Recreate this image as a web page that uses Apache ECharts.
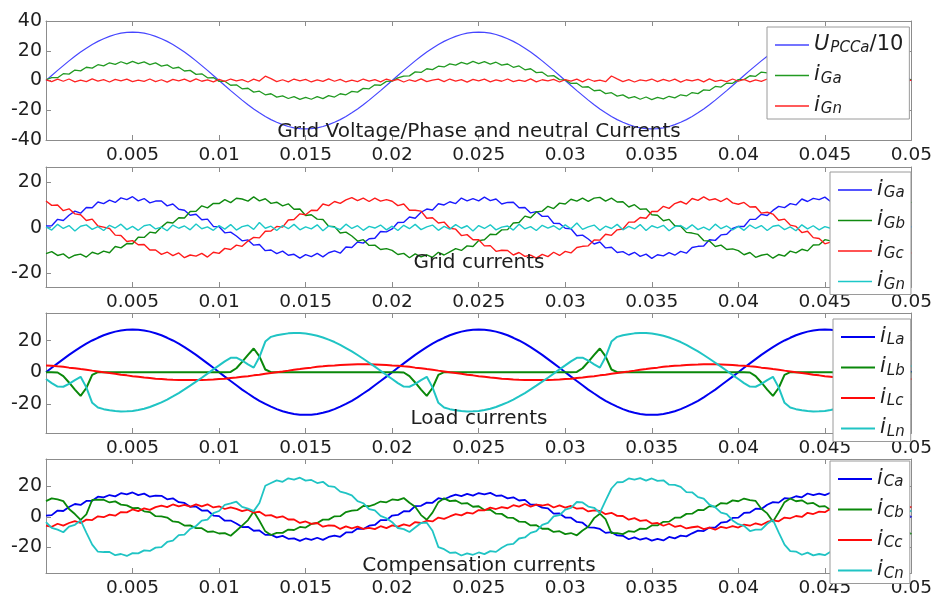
<!DOCTYPE html>
<html>
<head>
<meta charset="utf-8">
<script src="https://cdn.jsdelivr.net/npm/echarts@6/dist/echarts.min.js"></script>
<style>
  html, body { margin: 0; padding: 0; background: #fff; }
  #chart { width: 935px; height: 598px; }
</style>
</head>
<body>
<div id="chart"></div>
<script>
// sample times (s), one sample every 1/3 ms
const timeS = [
  0,0.00033,0.00067,0.001,0.00133,0.00167,0.002,0.00233,0.00267,0.003,0.00333,0.00367,0.004,0.00433,0.00467,0.005,0.00533,0.00567,0.006,0.00633,0.00667,0.007,0.00733,0.00767,0.008,0.00833,0.00867,0.009,0.00933,0.00967,
  0.01,0.01033,0.01067,0.011,0.01133,0.01167,0.012,0.01233,0.01267,0.013,0.01333,0.01367,0.014,0.01433,0.01467,0.015,0.01533,0.01567,0.016,0.01633,0.01667,0.017,0.01733,0.01767,0.018,0.01833,0.01867,0.019,0.01933,0.01967,
  0.02,0.02033,0.02067,0.021,0.02133,0.02167,0.022,0.02233,0.02267,0.023,0.02333,0.02367,0.024,0.02433,0.02467,0.025,0.02533,0.02567,0.026,0.02633,0.02667,0.027,0.02733,0.02767,0.028,0.02833,0.02867,0.029,0.02933,0.02967,
  0.03,0.03033,0.03067,0.031,0.03133,0.03167,0.032,0.03233,0.03267,0.033,0.03333,0.03367,0.034,0.03433,0.03467,0.035,0.03533,0.03567,0.036,0.03633,0.03667,0.037,0.03733,0.03767,0.038,0.03833,0.03867,0.039,0.03933,0.03967,
  0.04,0.04033,0.04067,0.041,0.04133,0.04167,0.042,0.04233,0.04267,0.043,0.04333,0.04367,0.044,0.04433,0.04467,0.045,0.04533,0.04567,0.046,0.04633,0.04667,0.047,0.04733,0.04767,0.048,0.04833,0.04867,0.049,0.04933,0.04967,
  0.05
];

// ---- panel 1: grid voltage / phase and neutral currents ----
const uPcc = [
  0,3.4,6.8,10,13.2,16.3,19.1,21.7,24.2,26.3,28.1,29.7,30.9,31.8,32.3,32.5,32.3,31.8,30.9,29.7,28.1,26.3,24.2,21.7,19.1,16.3,13.2,10,6.8,3.4,
  0,-3.4,-6.8,-10,-13.2,-16.3,-19.1,-21.7,-24.2,-26.3,-28.1,-29.7,-30.9,-31.8,-32.3,-32.5,-32.3,-31.8,-30.9,-29.7,-28.1,-26.3,-24.2,-21.7,-19.1,-16.3,-13.2,-10,-6.8,-3.4,
  0,3.4,6.8,10,13.2,16.3,19.1,21.7,24.2,26.3,28.1,29.7,30.9,31.8,32.3,32.5,32.3,31.8,30.9,29.7,28.1,26.3,24.2,21.7,19.1,16.3,13.2,10,6.8,3.4,
  0,-3.4,-6.8,-10,-13.2,-16.3,-19.1,-21.7,-24.2,-26.3,-28.1,-29.7,-30.9,-31.8,-32.3,-32.5,-32.3,-31.8,-30.9,-29.7,-28.1,-26.3,-24.2,-21.7,-19.1,-16.3,-13.2,-10,-6.8,-3.4,
  0,3.4,6.8,10,13.2,16.3,19.1,21.7,24.2,26.3,28.1,29.7,30.9,31.8,32.3,32.5,32.3,31.8,30.9,29.7,28.1,26.3,24.2,21.7,19.1,16.3,13.2,10,6.8,3.4,
  0
];
const iGa1 = [
  0.5,2.0,1.9,4.6,4.3,7.0,6.5,8.9,8.3,10.6,9.8,11.9,10.8,12.6,11.2,12.9,11.3,12.5,10.7,11.8,9.7,10.5,8.2,8.9,6.4,6.8,4.1,4.5,1.8,2.0,
  -0.6,-0.5,-3.2,-2.9,-5.6,-5.2,-7.8,-7.2,-9.6,-8.9,-11.2,-10.3,-12.1,-10.9,-12.7,-11.3,-12.6,-10.9,-12.2,-10.2,-11.1,-8.9,-9.6,-7.3,-7.8,-5.3,-5.6,-2.9,-3.2,-0.6,
  -0.4,1.8,3.0,3.1,5.8,5.4,7.9,7.3,9.6,9.1,11.2,10.3,12.2,11.0,12.8,11.4,12.7,11.0,12.3,10.3,11.1,8.9,9.8,7.2,7.9,5.3,5.6,2.9,3.3,0.6,
  0.4,-2.0,-1.8,-4.5,-4.2,-6.9,-6.4,-8.8,-8.2,-10.5,-9.7,-11.8,-10.9,-12.6,-11.1,-12.8,-11.4,-12.4,-10.6,-11.7,-9.6,-10.4,-8.1,-8.8,-6.3,-6.7,-4.0,-4.4,-1.7,-1.9,
  0.6,0.6,3.2,2.8,5.7,5.1,7.9,7.1,9.7,8.8,11.3,10.2,12.3,10.9,12.8,11.3,12.7,11.0,12.1,10.2,11.2,8.8,9.7,7.3,7.8,5.2,5.7,2.9,3.2,0.5,
  0.6
];
const iGn1 = [
  0.4,-0.8,0.9,-0.5,1.0,-0.9,0.3,-0.7,1.1,-0.4,0.6,-1.0,0.8,-0.3,0.9,-0.8,0.2,-0.6,1.0,-0.8,0.5,-1.1,0.7,-0.2,0.9,-0.7,1.1,-0.5,0.4,-0.9,
  0.8,-0.6,1.0,-0.3,0.6,-1.0,0.9,-0.4,2.9,1.3,-0.8,0.5,-0.9,1.0,-0.2,0.7,-1.0,0.4,-0.6,1.1,-0.5,0.8,-1.0,0.3,-0.7,1.0,-0.4,0.6,-0.9,1.0,
  -0.3,0.7,-1.0,0.5,-0.6,1.1,-0.8,0.2,0.9,-0.7,1.0,-0.4,0.6,-1.1,0.8,-0.3,0.9,-0.9,0.4,-0.5,1.0,-0.8,0.3,-0.6,1.1,-0.9,0.5,-0.2,0.8,-1.0,
  0.6,-0.4,0.9,-0.9,1.0,-0.5,0.3,-0.8,3.0,1.1,-0.7,0.6,-1.0,0.4,-0.3,1.0,-0.8,0.7,-0.5,0.9,-1.1,0.5,-0.2,0.8,-0.9,1.1,-0.6,0.3,-0.7,1.0,
  -0.5,0.8,-0.9,0.4,-0.6,1.0,-1.0,0.3,0.7,-0.8,1.1,-0.3,0.5,-0.9,0.9,-0.4,0.6,-1.0,0.8,-0.2,1.0,-0.7,0.4,-0.8,1.1,-0.6,0.2,-0.9,0.7,-0.5,
  0.3
];

// ---- panel 2: grid currents ----
const iGa2 = [
  0.7,0.8,3.6,3.1,5.4,7.2,6.3,8.8,8.7,11.2,10.5,12.0,11.0,13.0,12.2,13.5,11.7,12.7,10.8,11.6,11.6,9.5,10.3,8.0,7.6,5.4,5.8,3.4,3.7,0.5,
  0.4,-2.3,-2.0,-3.7,-5.8,-5.4,-7.7,-7.4,-10.1,-9.8,-11.4,-10.3,-12.1,-11.7,-13.4,-11.8,-12.7,-11.3,-12.8,-11.0,-10.2,-11.2,-8.5,-8.7,-6.3,-6.8,-4.9,-4.7,-1.7,-1.9,
  -0.6,2.2,2.3,4.6,4.1,6.7,8.1,7.7,10.4,9.9,11.3,10.5,12.9,11.7,12.7,11.7,13.3,11.8,12.5,10.3,11.0,11.1,8.7,8.8,6.4,7.0,4.9,5.0,1.9,1.8,
  -0.3,-0.5,-3.6,-3.3,-5.0,-7.2,-6.3,-8.9,-8.6,-10.9,-10.5,-12.0,-10.8,-12.6,-11.6,-13.5,-11.9,-12.4,-11.0,-12.1,-10.4,-11.2,-8.7,-8.2,-8.1,-5.3,-5.6,-3.2,-2.9,-0.4,
  0.5,0.5,3.6,3.6,5.8,5.3,7.5,9.3,8.7,10.5,9.9,12.5,11.4,12.8,12.2,13.3,11.4,12.5,12.6,10.8,11.8,9.7,9.8,7.5,8.1,6.0,5.7,2.9,3.5,0.8,
  0.3
];
const iGb2 = [
  -11.4,-10.5,-12.2,-11.5,-13.4,-12.1,-11.6,-12.9,-10.8,-11.6,-10.3,-11.0,-8.3,-8.9,-7.0,-7.1,-4.2,-4.3,-2.0,-2.4,0.2,2.3,2.0,4.3,4.2,7.0,7.1,9.5,8.6,10.6,
  10.5,12.2,10.9,12.8,12.5,11.6,13.4,11.7,12.6,10.6,11.1,9.5,10.4,8.0,8.1,5.3,5.6,3.7,3.5,0.6,0.4,-2.4,-2.0,-3.7,-5.9,-5.3,-7.8,-7.7,-9.6,-9.2,
  -10.0,-11.8,-11.3,-13.2,-11.5,-12.8,-11.9,-13.0,-10.8,-12.0,-10.6,-9.2,-10.0,-8.0,-8.3,-5.7,-5.3,-2.9,-3.1,-1.0,-0.9,2.0,2.2,5.0,4.3,6.8,7.2,9.3,8.3,10.7,
  10.3,12.4,11.6,12.9,11.5,12.9,13.2,11.6,12.9,11.2,11.3,9.0,10.0,8.0,8.2,5.6,5.4,3.0,3.6,0.8,0.6,-2.1,-2.4,-3.0,-5.7,-5.9,-8.3,-7.7,-9.6,-9.3,
  -10.1,-11.9,-10.9,-13.0,-12.1,-11.6,-13.4,-11.8,-12.5,-10.3,-11.1,-9.5,-10.2,-7.6,-7.5,-5.3,-5.8,-3.4,-3.7,-1.1,0.8,0.7,3.6,3.5,5.4,5.4,8.0,7.9,10.4,9.3,
  11.2
];
const iGc2 = [
  11.6,9.7,9.9,7.4,8.2,6.0,5.6,3.1,3.7,0.7,0.2,-0.4,-3.3,-3.5,-6.1,-5.7,-7.5,-7.4,-9.8,-9.8,-11.7,-10.7,-12.3,-11.1,-13.2,-12.0,-12.5,-11.3,-12.9,-10.8,
  -11.3,-9.1,-9.6,-7.7,-8.2,-5.9,-4.3,-4.5,-1.6,-1.5,0.5,0.2,3.3,3.5,6.0,5.6,7.6,7.5,10.3,9.6,11.4,10.6,12.1,13.1,11.8,12.9,11.4,12.9,11.6,12.2,
  11.5,9.6,10.3,7.6,7.6,7.2,4.1,4.3,2.0,2.4,-0.3,-0.7,-3.5,-3.1,-5.3,-5.3,-8.0,-7.9,-10.4,-9.9,-10.0,-12.0,-10.9,-12.6,-12.1,-13.4,-11.7,-12.7,-10.8,-12.2,
  -10.4,-11.1,-8.7,-8.2,-8.0,-5.4,-5.5,-2.9,-3.4,-1.0,-0.6,2.4,2.4,4.4,4.1,7.0,7.0,9.3,8.4,10.5,11.4,10.3,12.7,11.9,13.4,12.0,12.6,11.4,12.8,10.8,
  10.2,11.0,9.0,9.1,6.3,6.7,5.9,3.2,3.7,1.1,0.5,-2.2,-1.6,-4.4,-4.8,-7.1,-6.4,-8.8,-8.7,-11.2,-10.6,-10.4,-12.5,-11.8,-13.3,-11.8,-12.6,-11.1,-12.6,-10.9,
  -11.1
];
const iGn2 = [
  0.3,-1.1,1.4,-0.4,0.9,-1.5,0.6,1.2,-0.8,0.4,-1.3,1.0,-0.2,1.5,-0.9,0.5,-1.2,0.8,1.3,-0.6,0.2,-1.4,1.1,-0.3,0.7,-1.0,1.6,-0.5,0.3,-1.2,
  0.9,-0.7,1.3,-1.1,0.4,1.0,-0.8,2.2,-0.3,0.6,-1.3,0.9,-0.5,1.4,-1.0,0.3,-0.6,1.2,-1.4,0.7,0.1,-0.9,1.5,-0.4,0.8,-1.2,0.5,-0.2,1.1,-1.0,
  0.6,-1.3,1.0,-0.5,1.4,-0.9,0.3,1.1,-1.2,0.5,-0.7,1.3,-0.3,0.8,-1.5,0.9,-0.4,1.2,-1.0,0.2,0.7,-1.1,1.5,-0.6,0.4,-1.3,1.0,-0.2,0.8,-0.9,
  1.2,-0.5,2.0,-0.8,0.3,1.1,-1.2,0.6,-0.4,1.4,-1.0,0.5,-0.6,1.3,-1.3,0.8,-0.1,1.0,-1.4,0.4,0.9,-0.7,1.2,-0.9,0.2,-1.1,1.5,-0.5,0.7,-1.0,
  0.5,-1.2,1.1,-0.4,0.9,-1.3,0.6,1.0,-0.9,0.3,-1.4,1.2,-0.6,0.8,-1.0,0.4,-0.3,1.3,-1.1,0.7,0.2,-1.2,1.0,-0.5,0.6,-0.8,1.4,-0.7,0.3,-1.0,
  0.4
];

// ---- panel 3: load currents ----
const iLa = [
  0,2.8,5.6,8.3,11,13.5,15.9,18.1,20.1,21.8,23.4,24.7,25.7,26.4,26.9,27,26.9,26.4,25.7,24.7,23.4,21.8,20.1,18.1,15.9,13.5,11,8.3,5.6,2.8,
  0,-2.8,-5.6,-8.3,-11,-13.5,-15.9,-18.1,-20.1,-21.8,-23.4,-24.7,-25.7,-26.4,-26.9,-27,-26.9,-26.4,-25.7,-24.7,-23.4,-21.8,-20.1,-18.1,-15.9,-13.5,-11,-8.3,-5.6,-2.8,
  0,2.8,5.6,8.3,11,13.5,15.9,18.1,20.1,21.8,23.4,24.7,25.7,26.4,26.9,27,26.9,26.4,25.7,24.7,23.4,21.8,20.1,18.1,15.9,13.5,11,8.3,5.6,2.8,
  0,-2.8,-5.6,-8.3,-11,-13.5,-15.9,-18.1,-20.1,-21.8,-23.4,-24.7,-25.7,-26.4,-26.9,-27,-26.9,-26.4,-25.7,-24.7,-23.4,-21.8,-20.1,-18.1,-15.9,-13.5,-11,-8.3,-5.6,-2.8,
  0,2.8,5.6,8.3,11,13.5,15.9,18.1,20.1,21.8,23.4,24.7,25.7,26.4,26.9,27,26.9,26.4,25.7,24.7,23.4,21.8,20.1,18.1,15.9,13.5,11,8.3,5.6,2.8,
  0
];
const iLb = [
  0,0,-0.2,-2.5,-6.5,-11,-15,-10,-1.7,0,0,0,0,0,0,0,0,0,0,0,0,0,0,0,0,0,0,0,0,0,
  0,0,0.2,2.5,6.5,11,15,10,1.7,0,0,0,0,0,0,0,0,0,0,0,0,0,0,0,0,0,0,0,0,0,
  0,0,-0.2,-2.5,-6.5,-11,-15,-10,-1.7,0,0,0,0,0,0,0,0,0,0,0,0,0,0,0,0,0,0,0,0,0,
  0,0,0.2,2.5,6.5,11,15,10,1.7,0,0,0,0,0,0,0,0,0,0,0,0,0,0,0,0,0,0,0,0,0,
  0,0,-0.2,-2.5,-6.5,-11,-15,-10,-1.7,0,0,0,0,0,0,0,0,0,0,0,0,0,0,0,0,0,0,0,0,0,
  0
];
const iLc = [
  4.3,4.1,3.7,3.4,2.9,2.5,2,1.6,1,0.5,0,-0.5,-1,-1.6,-2,-2.5,-2.9,-3.4,-3.7,-4.1,-4.3,-4.6,-4.8,-4.9,-5,-5,-5,-4.9,-4.8,-4.6,
  -4.3,-4.1,-3.7,-3.4,-2.9,-2.5,-2,-1.6,-1,-0.5,0,0.5,1,1.6,2,2.5,2.9,3.4,3.7,4.1,4.3,4.6,4.8,4.9,5,5,5,4.9,4.8,4.6,
  4.3,4.1,3.7,3.4,2.9,2.5,2,1.6,1,0.5,0,-0.5,-1,-1.6,-2,-2.5,-2.9,-3.4,-3.7,-4.1,-4.3,-4.6,-4.8,-4.9,-5,-5,-5,-4.9,-4.8,-4.6,
  -4.3,-4.1,-3.7,-3.4,-2.9,-2.5,-2,-1.6,-1,-0.5,0,0.5,1,1.6,2,2.5,2.9,3.4,3.7,4.1,4.3,4.6,4.8,4.9,5,5,5,4.9,4.8,4.6,
  4.3,4.1,3.7,3.4,2.9,2.5,2,1.6,1,0.5,0,-0.5,-1,-1.6,-2,-2.5,-2.9,-3.4,-3.7,-4.1,-4.3,-4.6,-4.8,-4.9,-5,-5,-5,-4.9,-4.8,-4.6,
  -4.3
];
const iLn = [
  -4.3,-6.9,-9.1,-9.2,-7.4,-5,-2.9,-9.6,-19.4,-22.4,-23.4,-24.1,-24.6,-24.9,-24.8,-24.5,-23.9,-23.1,-22,-20.6,-19.1,-17.3,-15.3,-13.2,-10.9,-8.5,-6,-3.5,-0.9,1.8,
  4.3,6.9,9.1,9.2,7.4,5,2.9,9.6,19.4,22.4,23.4,24.1,24.6,24.9,24.8,24.5,23.9,23.1,22,20.6,19.1,17.3,15.3,13.2,10.9,8.5,6,3.5,0.9,-1.8,
  -4.3,-6.9,-9.1,-9.2,-7.4,-5,-2.9,-9.6,-19.4,-22.4,-23.4,-24.1,-24.6,-24.9,-24.8,-24.5,-23.9,-23.1,-22,-20.6,-19.1,-17.3,-15.3,-13.2,-10.9,-8.5,-6,-3.5,-0.9,1.8,
  4.3,6.9,9.1,9.2,7.4,5,2.9,9.6,19.4,22.4,23.4,24.1,24.6,24.9,24.8,24.5,23.9,23.1,22,20.6,19.1,17.3,15.3,13.2,10.9,8.5,6,3.5,0.9,-1.8,
  -4.3,-6.9,-9.1,-9.2,-7.4,-5,-2.9,-9.6,-19.4,-22.4,-23.4,-24.1,-24.6,-24.9,-24.8,-24.5,-23.9,-23.1,-22,-20.6,-19.1,-17.3,-15.3,-13.2,-10.9,-8.5,-6,-3.5,-0.9,1.8,
  4.3
];

// ---- panel 4: compensation currents ----
const iCa = [
  0.7,1.1,4.1,3.8,6.4,8.4,7.8,10.4,10.5,13.2,12.7,14.3,13.4,15.5,14.7,16.0,14.2,15.2,13.2,13.9,13.8,11.5,12.1,9.6,9.1,6.6,6.8,4.1,4.2,0.8,
  0.4,-2.6,-2.5,-4.4,-6.8,-6.6,-9.2,-9.0,-11.9,-11.8,-13.6,-12.6,-14.5,-14.2,-15.9,-14.3,-15.2,-13.8,-15.2,-13.3,-12.4,-13.2,-10.3,-10.3,-7.8,-8.0,-5.9,-5.4,-2.2,-2.2,
  0.8,1.2,3.7,3.6,7.0,7.2,9.3,9.2,12.2,11.5,13.2,14.6,13.6,15.1,13.9,15.6,14.7,15.7,13.8,14.0,12.1,12.8,10.7,11.1,8.0,8.0,6.0,5.5,2.1,2.2,
  -0.5,-0.6,-3.4,-3.9,-7.0,-7.1,-8.0,-10.6,-10.1,-12.3,-12.5,-14.8,-13.6,-15.1,-14.0,-15.7,-14.6,-15.6,-13.3,-14.2,-12.4,-12.9,-10.9,-9.1,-9.4,-7.1,-7.1,-3.9,-3.4,-0.8,
  -0.6,2.5,2.8,5.3,5.1,7.9,9.6,9.3,12.2,11.9,13.5,12.8,15.3,14.2,15.2,14.2,15.8,14.3,14.9,12.6,13.2,13.1,10.5,10.4,7.9,8.2,5.9,5.7,2.4,2.1,
  -0.3
];
const iCb = [
  10.3,12.1,11.5,10.3,5.1,1.8,-2.0,1.6,11.1,11.2,11.2,9.4,10.1,8.0,7.5,5.7,5.8,3.6,3.1,0.4,0.2,-0.5,-3.1,-3.6,-5.8,-5.7,-7.5,-7.5,-9.9,-9.7,
  -11.0,-10.8,-12.5,-9.2,-5.8,-2.2,3.4,-2.6,-9.6,-12.0,-10.6,-10.6,-8.4,-8.7,-6.7,-7.1,-4.7,-4.1,-1.9,-1.9,0.3,0.4,3.1,4.1,4.4,7.1,6.9,8.2,10.0,9.5,
  11.4,10.9,12.3,9.2,6.6,1.1,-2.0,2.7,9.6,12.1,10.3,10.7,8.7,9.0,6.6,6.9,4.5,4.6,2.0,1.9,-0.6,-0.8,-3.2,-3.3,-5.7,-5.6,-7.9,-7.8,-10.0,-9.5,
  -11.4,-10.7,-12.2,-9.0,-6.5,-0.9,2.0,-1.6,-10.8,-10.8,-11.4,-9.4,-9.9,-7.8,-8.0,-5.7,-5.7,-3.3,-3.2,-0.6,-0.5,1.9,2.0,4.5,4.4,7.0,6.6,9.0,8.6,10.8,
  10.2,12.0,11.0,10.4,5.3,2.2,-3.2,2.8,9.6,12.0,10.2,10.8,8.6,9.1,6.7,7.0,4.4,4.6,1.9,2.0,-0.6,-0.6,-3.3,-3.2,-5.8,-5.5,-8.0,-7.7,-10.0,-9.4,
  -11.3
];
const iCc = [
  -5.8,-6.6,-4.6,-5.8,-4.1,-2.9,-4.1,-1.9,-2.2,0.3,-0.3,1.4,0.7,3.1,2.9,4.8,3.7,5.5,4.5,6.3,7.3,6.3,8.1,6.9,7.8,6.6,8.2,6.8,8.2,6.1,
  6.9,5.1,6.2,5.2,3.7,4.7,2.7,3.3,0.8,1.1,-0.6,0.3,-1.8,-1.8,-4.1,-3.1,-4.7,-4.1,-6.5,-5.7,-5.9,-8.0,-6.3,-7.6,-6.5,-8.0,-7.3,-8.1,-6.2,-7.5,
  -5.7,-6.5,-5.0,-6.0,-3.5,-4.1,-2.6,-3.1,-0.5,-1.4,0.2,1.7,0.9,2.7,2.1,4.4,4.2,6.0,5.1,6.4,5.6,7.6,6.7,8.4,6.7,8.0,7.4,8.2,6.1,7.5,
  6.0,7.1,5.3,5.7,3.5,4.2,3.9,1.7,2.6,0.6,0.5,-1.9,-0.9,-2.7,-2.2,-4.5,-4.1,-5.9,-4.6,-6.6,-5.9,-7.7,-6.9,-6.4,-8.1,-7.1,-8.5,-6.6,-7.4,-6.1,
  -7.1,-5.2,-5.9,-4.3,-5.4,-3.4,-2.3,-3.0,-0.5,-1.0,0.5,-0.1,2.6,1.8,3.4,3.0,5.3,4.6,6.2,5.0,6.7,7.9,6.5,7.7,6.6,8.2,7.3,8.4,6.4,7.4,
  6.2
];
const iCn = [
  -3.5,-7.3,-8.5,-10.2,-6.5,-5.3,-2.4,-10.4,-18.3,-23.0,-23.2,-23.2,-25.3,-24.5,-25.8,-23.9,-24.1,-22.1,-22.5,-20.3,-20.0,-16.6,-15.7,-12.1,-11.7,-8.0,-6.1,-2.6,-1.9,2.4,
  3.8,7.9,8.8,9.9,6.5,5.4,3.7,9.0,20.4,22.2,23.9,23.0,25.3,24.5,25.7,23.8,24.2,22.2,23.0,20.1,19.7,16.5,15.5,14.1,10.3,8.9,5.0,4.2,0.6,-1.0,
  -3.6,-7.4,-8.1,-10.0,-7.1,-4.1,-3.9,-9.2,-20.0,-21.3,-23.7,-23.5,-25.5,-24.1,-25.0,-23.5,-24.6,-22.6,-23.1,-20.4,-18.3,-17.9,-14.3,-13.6,-10.6,-9.4,-5.3,-4.0,0.2,1.0,
  4.7,5.9,9.7,9.4,6.7,5.9,2.5,10.6,18.6,22.7,22.8,25.2,24.4,25.4,23.8,25.2,23.6,24.0,21.1,21.0,19.7,16.2,16.1,12.9,11.9,8.0,6.2,2.7,1.8,-2.4,
  -4.9,-6.0,-9.4,-8.5,-8.4,-4.6,-2.1,-10.3,-18.3,-22.6,-22.9,-25.0,-23.6,-25.4,-24.5,-25.3,-23.0,-23.5,-21.4,-21.7,-18.9,-16.3,-15.9,-12.8,-11.8,-7.8,-6.2,-2.4,-1.6,2.3,
  4.0
];

// panel titles and axis ticks
const panelTitles = ['Grid Voltage/Phase and neutral Currents', 'Grid currents', 'Load currents', 'Compensation currents'];
const yRanges = [[-40, 40], [-26, 26.5], [-38.5, 37.5], [-37, 38]];
const yTickValues = [[-40, -20, 0, 20, 40], [-20, 0, 20], [-20, 0, 20], [-20, 0, 20]];

const check = { timeS, uPcc, iGa1, iGn1, iGa2, iGb2, iGc2, iGn2, iLa, iLb, iLc, iLn, iCa, iCb, iCc, iCn };
Object.keys(check).forEach(k => {
  if (check[k].length !== 151) throw new Error(k + ' has ' + check[k].length + ' values');
});

const FONT = 'DejaVu Sans';
const TXT = '#1e1e1e';
const AXIS = '#8c8c8c';

// grid boxes in px
const grids = [
  { left: 46, top: 21, width: 866, height: 119 },
  { left: 46, top: 167, width: 866, height: 120 },
  { left: 46, top: 313, width: 866, height: 120 },
  { left: 46, top: 459, width: 866, height: 120 }
];
const titleTops = [122, 253, 409, 556];
const legendPos = [
  { left: 767, top: 27 },
  { left: 830, top: 172 },
  { left: 833, top: 319 },
  { left: 830, top: 461 }
];

const lines = [
  { id: 'u1', data: uPcc, g: 0, color: '#4646ff', w: 1.2 },
  { id: 'ga1', data: iGa1, g: 0, color: '#229a22', w: 1.3 },
  { id: 'gn1', data: iGn1, g: 0, color: '#ff2424', w: 1.3 },
  { id: 'ga2', data: iGa2, g: 1, color: '#1a1aff', w: 1.4 },
  { id: 'gb2', data: iGb2, g: 1, color: '#108a10', w: 1.4 },
  { id: 'gc2', data: iGc2, g: 1, color: '#ff1a1a', w: 1.4 },
  { id: 'gn2', data: iGn2, g: 1, color: '#1cc8c8', w: 1.4 },
  { id: 'la', data: iLa, g: 2, color: '#0000f0', w: 2 },
  { id: 'lb', data: iLb, g: 2, color: '#0a880a', w: 2 },
  { id: 'lc', data: iLc, g: 2, color: '#ff0a0a', w: 2 },
  { id: 'ln', data: iLn, g: 2, color: '#20c4c4', w: 2 },
  { id: 'ca', data: iCa, g: 3, color: '#0000f0', w: 1.8 },
  { id: 'cb', data: iCb, g: 3, color: '#0a880a', w: 1.8 },
  { id: 'cc', data: iCc, g: 3, color: '#ff0a0a', w: 1.8 },
  { id: 'cn', data: iCn, g: 3, color: '#20c4c4', w: 1.8 }
];

const legendText = {
  u1: '{v|U}{s|PCCa}{n|/10}', ga1: '{v|i}{s|Ga}', gn1: '{v|i}{s|Gn}',
  ga2: '{v|i}{s|Ga}', gb2: '{v|i}{s|Gb}', gc2: '{v|i}{s|Gc}', gn2: '{v|i}{s|Gn}',
  la: '{v|i}{s|La}', lb: '{v|i}{s|Lb}', lc: '{v|i}{s|Lc}', ln: '{v|i}{s|Ln}',
  ca: '{v|i}{s|Ca}', cb: '{v|i}{s|Cb}', cc: '{v|i}{s|Cc}', cn: '{v|i}{s|Cn}'
};
const rich = {
  v: { fontFamily: FONT, fontStyle: 'italic', fontSize: 21, color: TXT, lineHeight: 22, verticalAlign: 'top' },
  n: { fontFamily: FONT, fontSize: 21, color: TXT, lineHeight: 22, verticalAlign: 'top' },
  s: { fontFamily: FONT, fontStyle: 'italic', fontSize: 15, color: TXT, lineHeight: 16, padding: [10, 0, 0, 1], verticalAlign: 'bottom' }
};

const xAxes = [];
const yAxes = [];
grids.forEach((g, i) => {
  xAxes.push({
    type: 'value', gridIndex: i, min: 0, max: 0.05, interval: 0.005,
    axisLine: { onZero: false, lineStyle: { color: AXIS } },
    axisTick: { inside: true, length: 5, lineStyle: { color: AXIS } },
    splitLine: { show: false },
    axisLabel: {
      fontFamily: FONT, fontSize: 18.5, color: TXT, margin: 6,
      formatter: v => (v === 0 ? '' : String(parseFloat(v.toFixed(3))))
    }
  });
  yAxes.push({
    type: 'value', gridIndex: i, min: yRanges[i][0], max: yRanges[i][1],
    axisLine: { show: true, onZero: false, lineStyle: { color: AXIS } },
    axisTick: { show: true, inside: true, length: 5, customValues: yTickValues[i], lineStyle: { color: AXIS } },
    splitLine: { show: false },
    axisLabel: { fontFamily: FONT, fontSize: 19, color: TXT, margin: 4, customValues: yTickValues[i] }
  });
});
// box ticks on top and right
grids.forEach((g, i) => {
  xAxes.push({
    type: 'value', gridIndex: i, position: 'top', min: 0, max: 0.05, interval: 0.005,
    axisLine: { onZero: false, lineStyle: { color: AXIS } },
    axisTick: { inside: true, length: 5, lineStyle: { color: AXIS } },
    axisLabel: { show: false }, splitLine: { show: false }
  });
  yAxes.push({
    type: 'value', gridIndex: i, position: 'right', min: yRanges[i][0], max: yRanges[i][1],
    axisLine: { show: true, onZero: false, lineStyle: { color: AXIS } },
    axisTick: { show: true, inside: true, length: 5, customValues: yTickValues[i], lineStyle: { color: AXIS } },
    axisLabel: { show: false }, splitLine: { show: false }
  });
});

const series = lines.map(l => ({
  name: l.id,
  type: 'line',
  xAxisIndex: l.g,
  yAxisIndex: l.g,
  data: timeS.map((t, k) => [t, l.data[k]]),
  showSymbol: false,
  symbol: 'none',
  color: l.color,
  lineStyle: { width: l.w, color: l.color },
  silent: true
}));

const legends = legendPos.map((p, i) => ({
  left: p.left, top: p.top, orient: 'vertical',
  data: lines.filter(l => l.g === i).map(l => l.id),
  icon: 'rect', itemWidth: 34, itemHeight: i < 2 ? 1.5 : 2.2, itemGap: 5.5,
  padding: [4, 6, 2, 8],
  backgroundColor: '#fff', borderColor: '#9a9a9a', borderWidth: 1,
  selectedMode: false,
  formatter: name => legendText[name],
  textStyle: { rich: rich }
}));

const titles = panelTitles.map((t, i) => ({
  text: t, left: 479, top: titleTops[i], textAlign: 'center', padding: 0,
  textStyle: { fontFamily: FONT, fontSize: 20, fontWeight: 'normal', color: TXT }
}));

const chart = echarts.init(document.getElementById('chart'), null, { renderer: 'canvas' });
chart.setOption({
  animation: false,
  backgroundColor: '#fff',
  textStyle: { fontFamily: FONT },
  title: titles,
  legend: legends,
  grid: grids,
  xAxis: xAxes,
  yAxis: yAxes,
  series: series
});
</script>
</body>
</html>
